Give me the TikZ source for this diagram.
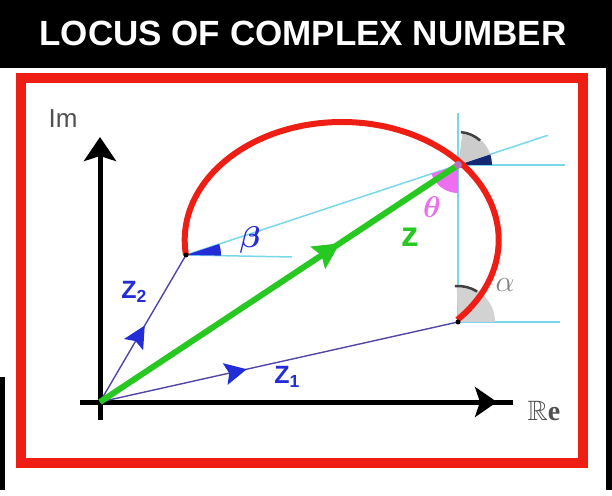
\documentclass[tikz,border=0pt]{standalone}
\usepackage{fix-cm}
\usepackage{amssymb}
\usepackage{bm}
\usepackage{fontspec}
\setmainfont{Liberation Sans}
\newfontfamily\seriffont{Liberation Serif}
\usetikzlibrary{arrows.meta, calc, decorations.markings}

\definecolor{locusred}{RGB}{238,30,20}
\definecolor{vecblue}{RGB}{35,45,215}
\definecolor{vecline}{RGB}{80,70,165}
\definecolor{guidecyan}{RGB}{120,215,235}
\definecolor{zgreen}{RGB}{40,200,35}
\definecolor{thetapink}{RGB}{238,110,240}
\definecolor{anglenavy}{RGB}{20,40,115}
\definecolor{labelgray}{RGB}{80,80,80}

\begin{document}
\begin{tikzpicture}[x=1pt, y=1pt,
    axis/.style={line width=5pt, black},
    frame/.style={line width=10pt, locusred},
    guide/.style={line width=1.5pt, guidecyan},
    vec/.style={line width=1.4pt, vecline},
    zline/.style={line width=6pt, zgreen},
    locus/.style={line width=6pt, locusred},
    midarrow/.style n args={3}{postaction={decorate, decoration={markings,
        mark=at position #1 with {\arrow{Stealth[length=#3, width=#3, inset=4pt, color=#2]}}}}},
    titletext/.style={font=\fontsize{35}{40}\selectfont\bfseries, text=white},
    vlabel/.style={font=\fontsize{25}{28}\selectfont\bfseries, text=vecblue},
    mathlabel/.style={font=\fontsize{30}{33}\selectfont}]
    \useasboundingbox (0,0) rectangle (612,495);

    \fill[black] (0,427) rectangle (612,495);
    \fill[black] (0,5) rectangle (5,118);
    \fill[black] (606,5) rectangle (612,427);
    \node[titletext] (title) at (303,462) {LOCUS OF COMPLEX NUMBER};
    \draw[frame] (21,32) rectangle (583,417);

    \coordinate (O) at (100,93);
    \coordinate (Z2) at (186,240);
    \coordinate (Z1) at (458,173);
    \coordinate (P) at (458,330);
    \coordinate (C) at (341,255);
    \coordinate (Z2h) at (292,238);
    \coordinate (Ptop) at (458,382);
    \coordinate (Ph) at (565,330);
    \coordinate (Z1h) at (560,173);

    \draw[axis] (80,93) -- (513,93);
    \draw[axis, -{Stealth[length=22pt, width=30pt, inset=5pt]}] (O) -- (497,93);
    \draw[axis, -{Stealth[length=24pt, width=32pt, inset=5pt]}] (100,75) -- (100,358);

    \draw[guide] (Z2) -- ($(Z2)!1.33!(P)$) coordinate (Pext);
    \draw[guide] (Z2) -- (Z2h);
    \draw[guide] (Ptop) -- (Z1);
    \draw[guide] (P) -- (Ph);
    \draw[guide] (Z1) -- (Z1h);

    \fill[vecblue] (Z2) -- ++(-1:35) arc[start angle=-1, end angle=18.3, radius=35] -- cycle;
    \fill[thetapink] (P) -- ++(198.3:28) arc[start angle=198.3, end angle=270, radius=28] -- cycle;
    \fill[anglenavy] (P) -- ++(0:34) arc[start angle=0, end angle=18.3, radius=34] -- cycle;
    \fill[gray!40] (P) -- ++(18.3:34) arc[start angle=18.3, end angle=82, radius=34] -- cycle;
    \draw[line width=2.5pt, darkgray] (P) ++(48:33) arc[start angle=48, end angle=85, radius=33];
    \fill[gray!35] (Z1) -- ++(0:37) arc[start angle=0, end angle=92, radius=37] -- cycle;
    \draw[line width=2.5pt, darkgray] (Z1) ++(58:36) arc[start angle=58, end angle=95, radius=36];

    \draw[vec, midarrow={0.52}{vecblue}{22pt}] (O) -- (Z2);
    \draw[vec, midarrow={0.41}{vecblue}{22pt}] (O) -- (Z1);
    \draw[zline, midarrow={0.67}{zgreen}{26pt}] (O) -- (P);

    \draw[locus] (Z2) arc[start angle=187.3, end angle=-42.6, x radius=157, y radius=118];

    \fill[black] (Z2) circle (2.5);
    \fill[black] (Z1) circle (2.5);
    \fill[violet!55] (P) circle (4);

    \node[vlabel] (z2label) at (134,203) {Z\textsubscript{2}};
    \node[vlabel] (z1label) at (287,118) {Z\textsubscript{1}};
    \node[font=\fontsize{35}{38}\selectfont\bfseries, text=zgreen] (zlabel) at (410,258) {z};
    \node[mathlabel, text=thetapink] (thetalabel) at (432,288) {$\bm{\theta}$};
    \node[mathlabel, text=vecblue] (betalabel) at (250,255) {$\bm{\beta}$};
    \node[mathlabel, text=gray] (alphalabel) at (505,210) {$\alpha$};
    \node[font=\fontsize{26}{28}\selectfont, text=labelgray] (imlabel) at (63,376) {Im};
    \node[font=\fontsize{28}{30}\selectfont\seriffont\bfseries, text=labelgray] (relabel) at (544,84) {$\mathbb{R}$e};
\end{tikzpicture}
\end{document}
